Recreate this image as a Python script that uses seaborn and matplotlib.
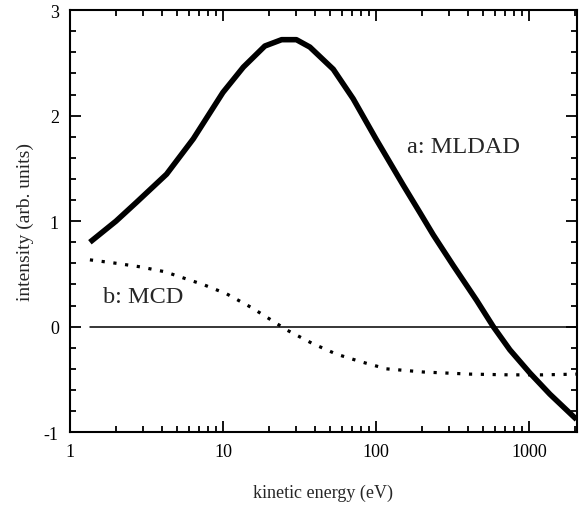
import numpy as np
import pandas as pd
import matplotlib
matplotlib.use("Agg")
import matplotlib.pyplot as plt
from matplotlib.ticker import LogLocator, FixedLocator, MultipleLocator, NullFormatter
import seaborn as sns

# curve a: MLDAD
mldad_energy = [1.35, 2.0, 2.73, 4.28, 6.4, 10, 13.6, 18.8, 24.2, 30.2, 37, 52.6, 71,
                100, 151, 194, 237, 320, 455, 585, 751, 1016, 1371, 2050]
mldad_intensity = [0.80, 1.00, 1.18, 1.445, 1.78, 2.22, 2.46, 2.66, 2.72, 2.72, 2.65, 2.44, 2.16,
                   1.78, 1.34, 1.08, 0.87, 0.58, 0.25, 0.0, -0.22, -0.44, -0.64, -0.88]

# curve b: MCD
mcd_energy = [1.35, 2.02, 2.87, 4.18, 6.1, 7.4, 10.6, 15.4, 21.9, 26, 38, 55, 78.6,
              117, 204, 411, 751, 1233, 2050]
mcd_intensity = [0.633, 0.60, 0.567, 0.52, 0.44, 0.40, 0.31, 0.18, 0.04, -0.03, -0.156, -0.26, -0.33,
                 -0.40, -0.43, -0.45, -0.457, -0.457, -0.45]

x_range = [1.35, 2050]
zero_line = [0, 0]

x_ticks = [1, 10, 100, 1000]
x_labels = ["1", "10", "100", "1000"]
y_ticks = [-1, 0, 1, 2, 3]

sns.set_style("ticks")
plt.rcParams['font.family'] = ['Liberation Serif', 'DejaVu Serif']
plt.rcParams['axes.unicode_minus'] = False

fig = plt.figure(figsize=(5.83, 5.06), dpi=100)
ax = fig.add_axes([0.12, 0.144, 0.869, 0.834])

a_df = pd.DataFrame({'energy': mldad_energy, 'intensity': mldad_intensity})
b_df = pd.DataFrame({'energy': mcd_energy, 'intensity': mcd_intensity})

sns.lineplot(data=a_df, x='energy', y='intensity', ax=ax, color='black', linewidth=4,
             solid_capstyle='butt', solid_joinstyle='round', sort=False)
sns.lineplot(data=b_df, x='energy', y='intensity', ax=ax, color='black', linewidth=2.3,
             linestyle=(0, (1, 2.7)), dash_capstyle='butt', sort=False)
ax.plot(x_range, zero_line, color='black', linewidth=1.1)

ax.set_xscale('log')
ax.set_xlim(1, 2050)
ax.set_ylim(-1, 3)

ax.xaxis.set_major_locator(FixedLocator(x_ticks))
ax.set_xticklabels(x_labels)
ax.xaxis.set_minor_locator(LogLocator(base=10, subs=np.arange(2, 10)))
ax.xaxis.set_minor_formatter(NullFormatter())
ax.set_yticks(y_ticks)
ax.yaxis.set_minor_locator(MultipleLocator(0.2))

ax.tick_params(which='both', direction='in', top=True, right=True, width=1.3,
               color='black', labelsize=13, labelcolor='black')
ax.tick_params(which='major', length=8, pad=8)
ax.tick_params(which='minor', length=4.5)
for s in ax.spines.values():
    s.set_linewidth(1.5)
    s.set_color('black')

ax.set_xlabel('kinetic energy (eV)', fontsize=13, labelpad=17)
ax.set_ylabel('intensity (arb. units)', fontsize=14, labelpad=7)

ax.text(160, 1.71, 'a: MLDAD', fontsize=17.5, ha='left', va='center')
ax.text(1.64, 0.29, 'b: MCD', fontsize=17.5, ha='left', va='center')

fig.savefig('out.png', dpi=100)
